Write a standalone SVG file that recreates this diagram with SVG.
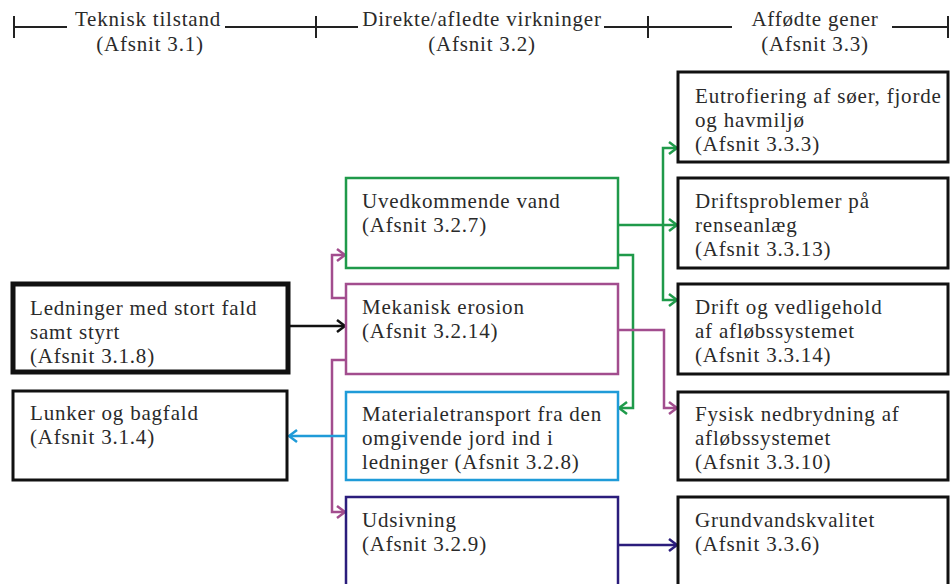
<svg xmlns="http://www.w3.org/2000/svg" width="952" height="584" viewBox="0 0 952 584">
<style>
  text { font-family: "Liberation Serif", "Times New Roman", serif; font-size: 21px; letter-spacing: 0.8px; fill: #2a2a2a; }
  .hdr { text-anchor: middle; }
  .box { fill: #fff; }
  .blk { stroke: #111; stroke-width: 3; }
  .thick { stroke: #111; stroke-width: 5; }
  .grn { stroke: #1f9a4a; stroke-width: 2.5; }
  .mag { stroke: #a24d8e; stroke-width: 2.5; }
  .blu { stroke: #1f9bd8; stroke-width: 2.5; }
  .nav { stroke: #2b1d7c; stroke-width: 2.5; }
  .ln { fill: none; stroke-width: 2.5; }
  .hl { stroke: #222; stroke-width: 2; fill: none; }
</style>
<defs>
  <marker id="aK" markerUnits="userSpaceOnUse" markerWidth="12" markerHeight="14" refX="10" refY="7" orient="auto"><path d="M2,1 L10,7 L2,13" fill="none" stroke="#111" stroke-width="2.5"/></marker>
  <marker id="aG" markerUnits="userSpaceOnUse" markerWidth="12" markerHeight="14" refX="10" refY="7" orient="auto"><path d="M2,1 L10,7 L2,13" fill="none" stroke="#1f9a4a" stroke-width="2.5"/></marker>
  <marker id="aM" markerUnits="userSpaceOnUse" markerWidth="12" markerHeight="14" refX="10" refY="7" orient="auto"><path d="M2,1 L10,7 L2,13" fill="none" stroke="#a24d8e" stroke-width="2.5"/></marker>
  <marker id="aB" markerUnits="userSpaceOnUse" markerWidth="12" markerHeight="14" refX="10" refY="7" orient="auto"><path d="M2,1 L10,7 L2,13" fill="none" stroke="#1f9bd8" stroke-width="2.5"/></marker>
  <marker id="aN" markerUnits="userSpaceOnUse" markerWidth="12" markerHeight="14" refX="10" refY="7" orient="auto"><path d="M2,1 L10,7 L2,13" fill="none" stroke="#2b1d7c" stroke-width="2.5"/></marker>
</defs>
<rect width="952" height="584" fill="#fff"/>

<g id="header">
  <path class="hl" d="M14,27 H67 M225,27 H358 M604,27 H732 M892,27 H948 M14,16 V38 M316,16 V38 M648,16 V38 M948,16 V38"/>
  <text class="hdr" x="148" y="26">Teknisk tilstand</text>
  <text class="hdr" x="150" y="51">(Afsnit 3.1)</text>
  <text class="hdr" x="482" y="26">Direkte/afledte virkninger</text>
  <text class="hdr" x="482" y="51">(Afsnit 3.2)</text>
  <text class="hdr" x="815" y="26">Affødte gener</text>
  <text class="hdr" x="815" y="51">(Afsnit 3.3)</text>
</g>

<g id="connectors">
  <path class="ln blk" d="M288,326 H345" marker-end="url(#aK)"/>
  <path class="ln mag" d="M346,298 H332 V255 H345" marker-end="url(#aM)"/>
  <path class="ln mag" d="M346,360 H332 V512 H345" marker-end="url(#aM)"/>
  <path class="ln blu" d="M346,436 H289" marker-end="url(#aB)"/>
  <path class="ln grn" d="M618,225 H677" marker-end="url(#aG)"/>
  <path class="ln grn" d="M663,225 V148 H677" marker-end="url(#aG)"/>
  <path class="ln grn" d="M663,225 V300 H677" marker-end="url(#aG)"/>
  <path class="ln grn" d="M618,255 H633 V408 H619" marker-end="url(#aG)"/>
  <path class="ln mag" d="M618,330 H664 V408 H677" marker-end="url(#aM)"/>
  <path class="ln nav" d="M618,545 H677" marker-end="url(#aN)"/>
</g>

<g id="n-ledninger">
  <rect class="box thick" x="13" y="284" width="275" height="88"/>
  <text x="30" y="315">Ledninger med stort fald</text>
  <text x="30" y="339">samt styrt</text>
  <text x="30" y="363">(Afsnit 3.1.8)</text>
</g>
<g id="n-lunker">
  <rect class="box blk" x="13" y="391" width="274" height="89"/>
  <text x="30" y="420">Lunker og bagfald</text>
  <text x="30" y="444">(Afsnit 3.1.4)</text>
</g>

<g id="n-uvedkommende">
  <rect class="box grn" x="346" y="178" width="272" height="90"/>
  <text x="362" y="208">Uvedkommende vand</text>
  <text x="362" y="232">(Afsnit 3.2.7)</text>
</g>
<g id="n-mekanisk">
  <rect class="box mag" x="346" y="284" width="272" height="90"/>
  <text x="362" y="314">Mekanisk erosion</text>
  <text x="362" y="338">(Afsnit 3.2.14)</text>
</g>
<g id="n-materialetransport">
  <rect class="box blu" x="346" y="392" width="272" height="88"/>
  <text x="362" y="421">Materialetransport fra den</text>
  <text x="362" y="445">omgivende jord ind i</text>
  <text x="362" y="469">ledninger (Afsnit 3.2.8)</text>
</g>
<g id="n-udsivning">
  <rect class="box nav" x="346" y="497" width="272" height="100"/>
  <text x="362" y="527">Udsivning</text>
  <text x="362" y="551">(Afsnit 3.2.9)</text>
</g>

<g id="n-eutrofiering">
  <rect class="box blk" x="678" y="72" width="270" height="90"/>
  <text x="695" y="103">Eutrofiering af søer, fjorde</text>
  <text x="695" y="127">og havmiljø</text>
  <text x="695" y="151">(Afsnit 3.3.3)</text>
</g>
<g id="n-driftsproblemer">
  <rect class="box blk" x="678" y="178" width="270" height="90"/>
  <text x="695" y="208">Driftsproblemer på</text>
  <text x="695" y="232">renseanlæg</text>
  <text x="695" y="256">(Afsnit 3.3.13)</text>
</g>
<g id="n-drift">
  <rect class="box blk" x="678" y="284" width="270" height="90"/>
  <text x="695" y="314">Drift og vedligehold</text>
  <text x="695" y="338">af afløbssystemet</text>
  <text x="695" y="362">(Afsnit 3.3.14)</text>
</g>
<g id="n-fysisk">
  <rect class="box blk" x="678" y="392" width="270" height="88"/>
  <text x="695" y="421">Fysisk nedbrydning af</text>
  <text x="695" y="445">afløbssystemet</text>
  <text x="695" y="469">(Afsnit 3.3.10)</text>
</g>
<g id="n-grundvand">
  <rect class="box blk" x="678" y="497" width="270" height="100"/>
  <text x="695" y="527">Grundvandskvalitet</text>
  <text x="695" y="551">(Afsnit 3.3.6)</text>
</g>
</svg>
